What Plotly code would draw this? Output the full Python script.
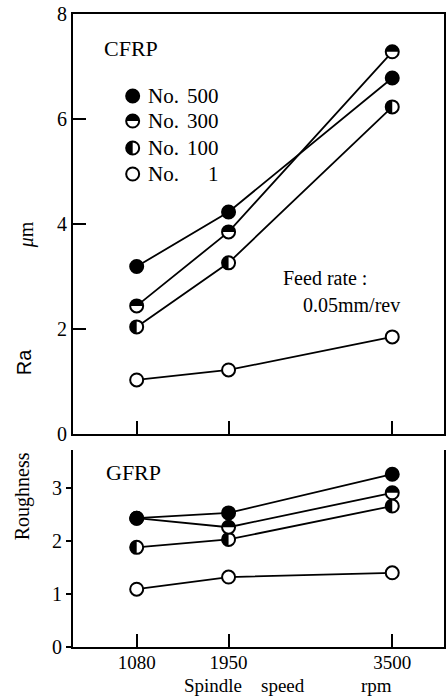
import plotly.graph_objects as go

speeds = [1080, 1950, 3500]
series_names = ["No. 500", "No. 300", "No. 100", "No. 1"]
cfrp_500 = [3.19, 4.23, 6.78]
cfrp_300 = [2.44, 3.85, 7.28]
cfrp_100 = [2.04, 3.26, 6.23]
cfrp_1 = [1.03, 1.22, 1.85]
gfrp_500 = [2.43, 2.53, 3.26]
gfrp_300 = [2.43, 2.26, 2.91]
gfrp_100 = [1.88, 2.03, 2.66]
gfrp_1 = [1.09, 1.32, 1.40]
top_yticks = [0, 2, 4, 6, 8]
bot_yticks = [0, 1, 2, 3]

W, H = 447, 696
ML, MR, MT, MB = 73, 1, 14, 49
PW, PH = W - ML - MR, H - MT - MB
def px(x): return (x - ML) / PW
def py(y): return (H - MB - y) / PH

SERIF = "Liberation Serif"
R = 6.5
K = 0.5523 * R
# half-disc paths in pixel units around the anchor (y positive = up)
HALF_PATH = {
    "No. 300": f"M {-R},0 C {-R},{K} {-K},{R} 0,{R} C {K},{R} {R},{K} {R},0 Z",
    "No. 100": f"M 0,{-R} C {-K},{-R} {-R},{-K} {-R},0 C {-R},{K} {-K},{R} 0,{R} Z",
}

fig = go.Figure()
shapes = []

def half_shape(name, xref, yref, xa, ya):
    return dict(type="path", xref=xref, yref=yref, xsizemode="pixel", ysizemode="pixel",
                xanchor=xa, yanchor=ya, path=HALF_PATH[name],
                fillcolor="black", line=dict(width=0), layer="above")

def add_series(vals, name, xa, ya):
    filled = name == "No. 500"
    fig.add_trace(go.Scatter(
        x=speeds, y=vals, xaxis=xa, yaxis=ya, showlegend=False, mode="lines+markers",
        line=dict(color="black", width=1.8), hoverinfo="skip",
        marker=dict(size=13, color="black" if filled else "white",
                    line=dict(width=2, color="black"))))
    if name in HALF_PATH:
        for sx, v in zip(speeds, vals):
            shapes.append(half_shape(name, xa, ya, sx, v))

for vals, name in [(cfrp_1, "No. 1"), (cfrp_100, "No. 100"), (cfrp_300, "No. 300"), (cfrp_500, "No. 500")]:
    add_series(vals, name, "x", "y")
for vals, name in [(gfrp_1, "No. 1"), (gfrp_100, "No. 100"), (gfrp_300, "No. 300"), (gfrp_500, "No. 500")]:
    add_series(vals, name, "x2", "y2")

xr = [477, 3990]
axis_common = dict(showgrid=False, zeroline=False, linecolor="black", linewidth=2,
                   tickcolor="black", tickwidth=2,
                   tickfont=dict(family=SERIF, size=20, color="black"))
top_dom = [py(434), 1]
bot_dom = [0, py(450)]

fig.update_layout(
    width=W, height=H, margin=dict(l=ML, r=MR, t=MT, b=MB),
    paper_bgcolor="white", plot_bgcolor="white", showlegend=False,
    xaxis=dict(range=xr, domain=[0, 1], anchor="y", tickvals=speeds, showticklabels=False,
               ticks="inside", ticklen=13, mirror=True, **axis_common),
    yaxis=dict(range=[0, 8], domain=top_dom, anchor="x", tickvals=top_yticks,
               ticks="inside", ticklen=13, mirror=True, **axis_common),
    xaxis2=dict(range=xr, domain=[0, 1], anchor="y2", tickvals=speeds,
                ticktext=[str(s) for s in speeds], ticklabelstandoff=-3,
                ticks="inside", ticklen=13, mirror=False,
                **{**axis_common, "tickfont": dict(family=SERIF, size=19, color="black")}),
    yaxis2=dict(range=[0, (647 - 450) / 53.0], domain=bot_dom, anchor="x2", tickvals=bot_yticks,
                ticks="outside", ticklen=5, mirror=True, **axis_common),
)

ann = []
def A(text, x, y, xanchor="left", size=20, family=SERIF, angle=0):
    ann.append(dict(text=text, x=px(x), y=py(y), xref="paper", yref="paper",
                    xanchor=xanchor, yanchor="middle", showarrow=False, textangle=angle,
                    font=dict(family=family, size=size, color="black")))

A("CFRP", 102, 48, size=22)
A("GFRP", 104, 472, size=22)
rows_y = [96, 121, 148, 174]
nums = ["500", "300", "100", "1"]
for name, yy, n in zip(series_names, rows_y, nums):
    shapes.append(dict(type="circle", xref="paper", yref="paper", xsizemode="pixel", ysizemode="pixel",
                       xanchor=px(133), yanchor=py(yy), x0=-R, x1=R, y0=-R, y1=R,
                       fillcolor="black" if name == "No. 500" else "white",
                       line=dict(color="black", width=2), layer="above"))
    if name in HALF_PATH:
        shapes.append(half_shape(name, "paper", "paper", px(133), py(yy)))
    A("No.", 146, yy, size=21)
    A(n, 222, yy, xanchor="right", size=21)
A("Feed rate :", 282, 278)
A("0.05mm/rev", 302, 305)
A("Spindle", 214, 685, xanchor="center", size=19)
A("speed", 284, 685, xanchor="center", size=19)
A("rpm", 378, 685, xanchor="center", size=19)
A("Roughness", 23, 496, xanchor="center", angle=-90)
A("Ra", 24, 362, xanchor="center", family="Liberation Sans", angle=-90)
A("<i>μ</i>m", 26, 235, xanchor="center", angle=-90)
fig.update_layout(annotations=ann, shapes=shapes)

fig.write_html("out.html")
